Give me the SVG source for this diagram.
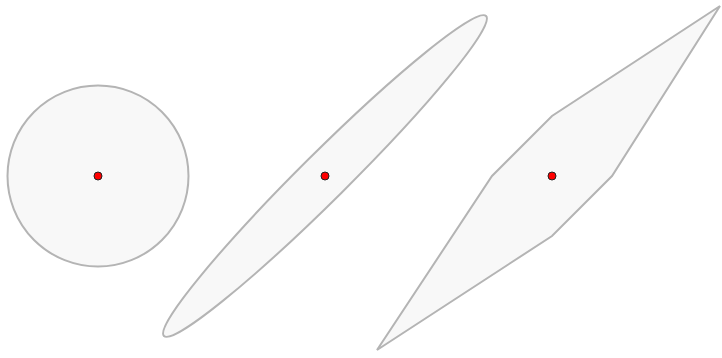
<svg xmlns="http://www.w3.org/2000/svg" width="722" height="358" viewBox="0 0 722 358">
<style>
.shape{fill:#f8f8f8;stroke:#b4b4b4;stroke-width:2}
.dot{fill:#ff0000;stroke:#222;stroke-width:1}
</style>
<rect width="722" height="358" fill="#ffffff"/>
<g id="circle">
<circle class="shape" cx="98" cy="176" r="90.5"/>
<circle class="dot" cx="98" cy="176" r="4"/>
</g>
<g id="ellipse">
<ellipse class="shape" cx="325" cy="176" rx="227" ry="23.5" transform="rotate(-44.8 325 176)"/>
<circle class="dot" cx="325" cy="176" r="4"/>
</g>
<g id="polygon">
<polygon class="shape" points="377,350 492,176 552,116 720,6 612,176 552,236"/>
<circle class="dot" cx="552" cy="176" r="4"/>
</g>
<g id="connectors"></g>
</svg>
